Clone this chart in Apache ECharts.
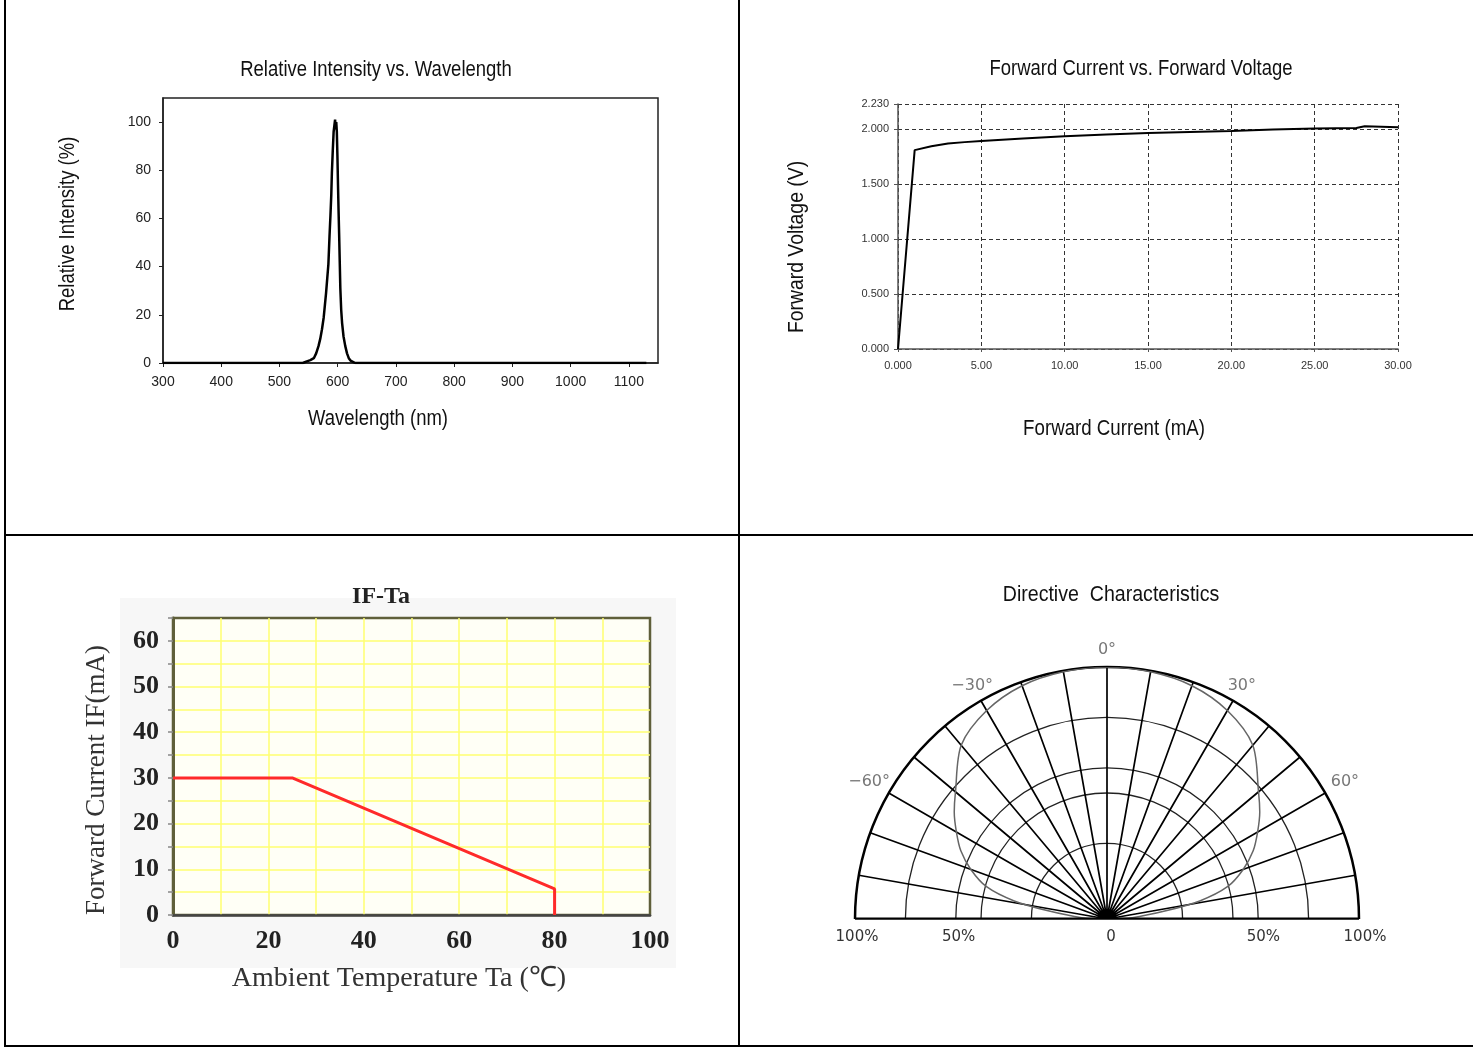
<!DOCTYPE html>
<html><head><meta charset="utf-8">
<script src="https://cdn.jsdelivr.net/npm/echarts@6/dist/echarts.min.js"></script>
<style>html,body{margin:0;padding:0;background:#fff}#c{width:1473px;height:1047px}</style>
</head><body><div id="c"></div>
<script>
// ---------- Panel 1: Relative Intensity vs. Wavelength ----------
const wavelengthNm = [300, 540, 547, 553, 559, 563, 567, 570, 573, 576, 578, 580, 582, 584, 585, 586, 587.5, 589, 590, 591.5, 593, 594.5, 595.5, 596.5, 597.5, 598.5, 599.5, 600.5, 601.5, 602.5, 603.5, 604.5, 606, 607.5, 610, 613, 616, 619, 622, 625, 630, 1130];
const relIntensity = [0, 0, 0.7, 1.2, 2, 4, 7, 10, 14, 19, 24, 29, 35, 41, 47, 53, 61, 70, 79, 88, 96, 99, 101, 97, 100, 96, 86, 74, 63, 53, 42, 31, 22, 16.7, 11, 7, 4, 2, 1, 0.5, 0, 0];
const spectrumXTicks = [300, 400, 500, 600, 700, 800, 900, 1000, 1100];
const spectrumYTicks = [0, 20, 40, 60, 80, 100];

// ---------- Panel 2: Forward Current vs. Forward Voltage ----------
const fwdCurrent = [0, 1.0, 2.0, 3.0, 4.0, 5.0, 7.5, 10.0, 12.5, 15.0, 17.5, 20.0, 22.5, 25.0, 27.5, 28.0, 30.0];
const fwdVoltage = [0, 1.81, 1.845, 1.87, 1.883, 1.894, 1.915, 1.936, 1.952, 1.966, 1.976, 1.985, 1.997, 2.006, 2.012, 2.027, 2.018];

// ---------- Panel 3: IF-Ta derating ----------
const ambientTemp = [0, 25, 80, 80];
const maxCurrent = [30, 30, 5.7, 0];

// ---------- Panel 4: Directive Characteristics ----------
const patternAngle = [-90, -87, -82, -79, -75, -70, -65, -60, -55, -50, -40, -30, -20, -10, 0, 10, 20, 30, 40, 50, 55, 60, 65, 70, 75, 79, 82, 87, 90];
const patternRel = [0, 10, 24, 37.5, 49.5, 57.5, 64, 69, 74, 78.5, 90, 95.5, 98.5, 99.6, 100, 99.6, 98.5, 95.5, 90, 78.5, 74, 69, 64, 57.5, 49.5, 37.5, 24, 10, 0];
const polarRings = [30, 50, 60, 80];
const angleLabelValues = [-60, -30, 0, 30, 60];
const angleLabelRadius = [109, 107, 107, 107, 109];
const pctLabelPos = [-100, -60, 0, 60, 100];
const pctLabelText = ['100%', '50%', '0', '50%', '100%'];

const ARIAL = "'Liberation Sans',Arial,sans-serif";
const SERIF = "'Liberation Serif','Times New Roman',serif";
const MONO = "'DejaVu Sans',Verdana,sans-serif";

const zip = (a, b) => a.map((v, i) => [v, b[i]]);
const txt = (text, x, y, font, o) => {
  o = o || {};
  return {type: 'text', x: x, y: y, rotation: o.rot || 0, scaleX: o.sx || 1,
    style: {text: text, align: 'center', verticalAlign: 'middle', font: font, fill: o.fill || '#111'}};
};
const NARROWFONT = "22px " + ARIAL;

const chart = echarts.init(document.getElementById('c'), null, {renderer: 'canvas'});

const option = {
  backgroundColor: '#fff',
  animation: false,
  graphic: [
    {type: 'rect', z: -10, silent: true, shape: {x: 120, y: 598, width: 556, height: 370}, style: {fill: '#f7f7f7'}},
    {type: 'line', shape: {x1: 5, y1: 0, x2: 5, y2: 1047}, style: {stroke: '#000', lineWidth: 2}},
    {type: 'line', shape: {x1: 739, y1: 0, x2: 739, y2: 1047}, style: {stroke: '#000', lineWidth: 2}},
    {type: 'line', shape: {x1: 5, y1: 535, x2: 1473, y2: 535}, style: {stroke: '#000', lineWidth: 2}},
    {type: 'line', shape: {x1: 5, y1: 1046, x2: 1473, y2: 1046}, style: {stroke: '#000', lineWidth: 2}},
    txt('Relative Intensity vs. Wavelength', 376, 70, NARROWFONT, {sx: 0.84}),
    txt('Wavelength (nm)', 378, 419, NARROWFONT, {sx: 0.84}),
    txt('Relative Intensity (%)', 68, 224, NARROWFONT, {sx: 0.84, rot: Math.PI / 2}),
    txt('Forward Current vs. Forward Voltage', 1141, 69, NARROWFONT, {sx: 0.84}),
    txt('Forward Current (mA)', 1114, 429, NARROWFONT, {sx: 0.85}),
    txt('Forward Voltage (V)', 797, 247, NARROWFONT, {sx: 0.88, rot: Math.PI / 2}),
    txt('IF-Ta', 381, 597, "bold 24px " + SERIF, {fill: '#222'}),
    txt('Forward Current IF(mA)', 97, 780, "27px " + SERIF, {fill: '#333', rot: Math.PI / 2}),
    txt('Ambient Temperature Ta (℃)', 399, 979, "28px " + SERIF, {fill: '#333'}),
    txt('Directive  Characteristics', 1111, 595, NARROWFONT, {sx: 0.89})
  ],
  grid: [
    {left: 163, top: 98, width: 495, height: 265, show: true, borderColor: '#222', borderWidth: 1.5, backgroundColor: 'transparent'},
    {left: 898, top: 104, width: 500, height: 245},
    {left: 173, top: 618, width: 477, height: 297, show: true, backgroundColor: '#fffff6', borderColor: '#5f5f3a', borderWidth: 2.5},
    {left: 857, top: 918, width: 508, height: 2}
  ],
  xAxis: [
    {gridIndex: 0, type: 'value', min: 300, max: 1150, interval: 100,
     axisLine: {show: true, lineStyle: {color: '#222', width: 1.5}},
     axisTick: {show: true, length: 4, customValues: spectrumXTicks, lineStyle: {color: '#222'}},
     axisLabel: {customValues: spectrumXTicks, fontSize: 14, fontFamily: ARIAL, color: '#222', margin: 12, formatter: v => String(v)},
     splitLine: {show: false}},
    {gridIndex: 1, type: 'value', min: 0, max: 30, interval: 5, offset: 6,
     axisLine: {show: true, lineStyle: {color: '#555', width: 1.5}},
     axisTick: {show: true, length: 3, lineStyle: {color: '#555'}},
     axisLabel: {fontSize: 11, fontFamily: ARIAL, color: '#333', margin: 5, formatter: v => v === 0 ? '0.000' : v.toFixed(2)},
     splitLine: {show: true, lineStyle: {color: '#333', width: 1, type: [4, 3]}}},
    {gridIndex: 2, type: 'value', min: 0, max: 100, interval: 10,
     axisLine: {show: true, lineStyle: {color: '#444', width: 2.5}},
     axisTick: {show: false},
     axisLabel: {fontSize: 26, fontWeight: 'bold', fontFamily: SERIF, color: '#222', margin: 13, formatter: v => v % 20 === 0 ? String(v) : ''},
     splitLine: {show: true, showMinLine: false, showMaxLine: false, lineStyle: {color: '#ffff70', width: 1.5}}},
    {gridIndex: 3, type: 'value', min: -100, max: 100,
     axisLine: {show: false}, axisTick: {show: false}, splitLine: {show: false},
     axisLabel: {customValues: pctLabelPos, fontSize: 15, fontFamily: MONO, color: '#333', margin: 10,
       formatter: v => pctLabelText[pctLabelPos.indexOf(v)] || ''}}
  ],
  yAxis: [
    {gridIndex: 0, type: 'value', min: 0, max: 110, interval: 20,
     axisLine: {show: true, lineStyle: {color: '#222', width: 1.5}},
     axisTick: {show: true, length: 4, customValues: spectrumYTicks, lineStyle: {color: '#222'}},
     axisLabel: {customValues: spectrumYTicks, fontSize: 14, fontFamily: ARIAL, color: '#222', margin: 12},
     splitLine: {show: false}},
    {gridIndex: 1, type: 'value', min: 0, max: 2.23, interval: 0.5, offset: 5,
     axisLine: {show: true, lineStyle: {color: '#555', width: 1.5}},
     axisTick: {show: true, length: 4, lineStyle: {color: '#555'}},
     axisLabel: {fontSize: 11, fontFamily: ARIAL, color: '#333', margin: 4, formatter: v => v.toFixed(3)},
     splitLine: {show: true, lineStyle: {color: '#333', width: 1, type: [4, 3]}}},
    {gridIndex: 2, type: 'value', min: 0, max: 65, interval: 5,
     axisLine: {show: true, lineStyle: {color: '#5f5f3a', width: 3}},
     axisTick: {show: true, length: 5, lineStyle: {color: '#888', width: 1.5}},
     axisLabel: {fontSize: 26, fontWeight: 'bold', fontFamily: SERIF, color: '#222', margin: 14, formatter: v => (v % 10 === 0 && v <= 60) ? String(v) : ''},
     splitLine: {show: true, showMinLine: false, showMaxLine: false, lineStyle: {color: '#ffff70', width: 1.5}}},
    {gridIndex: 3, type: 'value', show: false}
  ],
  polar: {center: [1107, 919], radius: 252},
  angleAxis: {
    type: 'value', min: -90, max: 90, interval: 10, startAngle: 180, endAngle: 0, clockwise: true,
    axisLine: {show: true, lineStyle: {color: '#000', width: 2.5}},
    axisTick: {show: false},
    axisLabel: {show: false},
    splitLine: {show: true, lineStyle: {color: '#000', width: 1.7}}
  },
  radiusAxis: {
    type: 'value', min: 0, max: 100,
    axisLine: {show: false}, axisLabel: {show: false},
    axisTick: {show: false, customValues: polarRings},
    splitLine: {show: true, lineStyle: {color: '#222', width: 1.3}}
  },
  series: [
    {type: 'line', xAxisIndex: 0, yAxisIndex: 0, data: zip(wavelengthNm, relIntensity), showSymbol: false,
     lineStyle: {color: '#000', width: 2.5}, itemStyle: {color: '#000'}},
    {type: 'line', xAxisIndex: 1, yAxisIndex: 1, data: zip(fwdCurrent, fwdVoltage), showSymbol: false,
     lineStyle: {color: '#000', width: 2}, itemStyle: {color: '#000'}},
    {type: 'line', xAxisIndex: 2, yAxisIndex: 2, data: zip(ambientTemp, maxCurrent), showSymbol: false,
     lineStyle: {color: '#ff2a2a', width: 3}, itemStyle: {color: '#ff2a2a'}},
    {type: 'line', coordinateSystem: 'polar', data: patternAngle.map((a, i) => [patternRel[i], a]), showSymbol: false, smooth: 0.3,
     lineStyle: {color: '#666', width: 1.5}, itemStyle: {color: '#666'}},
    {type: 'line', coordinateSystem: 'polar', data: [[100, -90], [100, 90]], showSymbol: false,
     lineStyle: {color: '#000', width: 3}, itemStyle: {color: '#000'}},
    {type: 'scatter', coordinateSystem: 'polar', symbol: 'circle', symbolSize: 2, silent: true, clip: false,
     itemStyle: {color: 'rgba(255,255,255,0)'},
     data: angleLabelValues.map((a, i) => [angleLabelRadius[i], a]),
     label: {show: true, position: 'inside', color: '#555', fontSize: 16, fontFamily: MONO,
       formatter: p => {const v = p.value[1]; return (v < 0 ? '\u2212' + Math.abs(v) : String(v)) + '°';}}}
  ]
};
chart.setOption(option);
</script>
</body></html>
